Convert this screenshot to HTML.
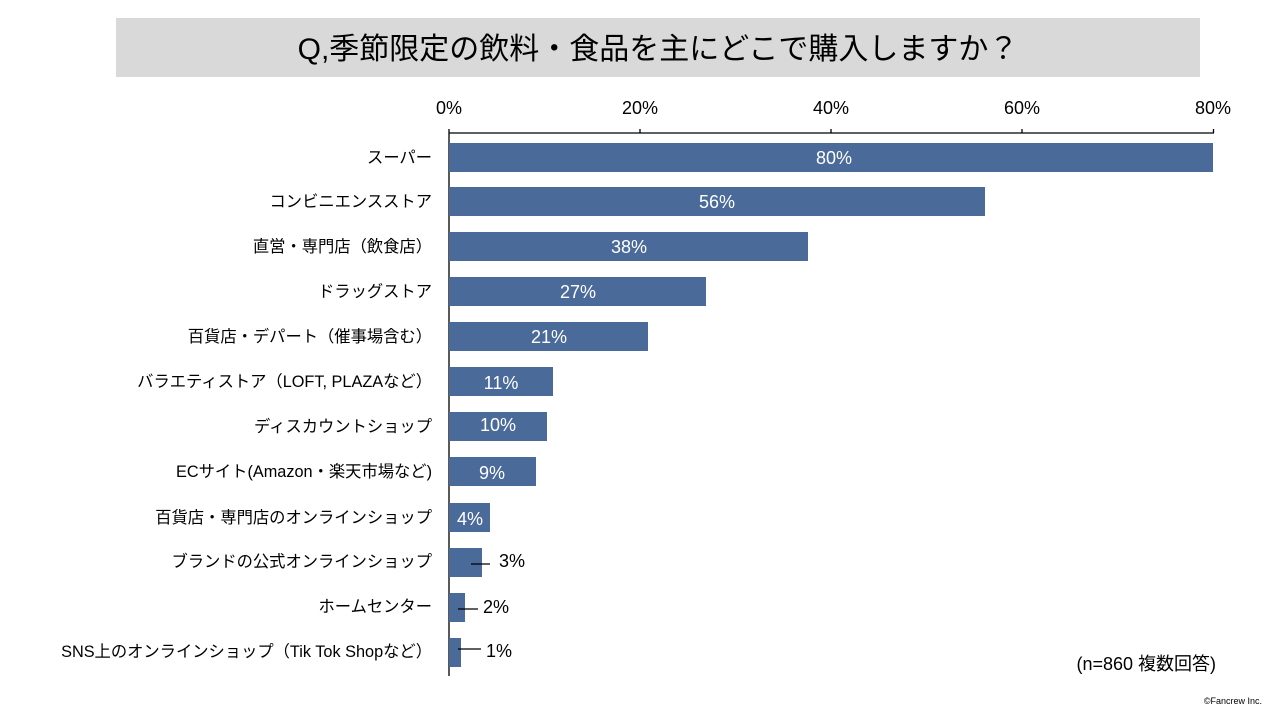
<!DOCTYPE html>
<html><head><meta charset="utf-8"><style>
html,body{margin:0;padding:0;background:#fff;}
svg{display:block;font-family:"Liberation Sans","Noto Sans CJK JP",sans-serif;}
</style></head><body>
<svg width="1280" height="720" viewBox="0 0 1280 720">
<rect x="116" y="18" width="1084" height="59" fill="#d9d9d9"/>
<text x="658" y="59" font-size="30" text-anchor="middle" fill="#000">Q,季節限定の飲料・食品を主にどこで購入しますか？</text>
<g font-size="18" fill="#000" text-anchor="middle">
<text x="449" y="114">0%</text><text x="640" y="114">20%</text><text x="831" y="114">40%</text><text x="1022" y="114">60%</text><text x="1213" y="114">80%</text>
</g>
<g stroke="#000" stroke-width="1.3">
<line x1="449" y1="133" x2="1214" y2="133"/>
<line x1="449" y1="129" x2="449" y2="676"/>
<line x1="640" y1="129" x2="640" y2="133"/><line x1="831" y1="129" x2="831" y2="133"/><line x1="1022" y1="129" x2="1022" y2="133"/><line x1="1213.5" y1="129" x2="1213.5" y2="133"/>
</g>
<g fill="#4a6a99">
<rect x="449" y="143" width="764" height="29"/>
<rect x="449" y="187" width="536" height="29"/>
<rect x="449" y="232" width="359" height="29"/>
<rect x="449" y="277" width="257" height="29"/>
<rect x="449" y="322" width="199" height="29"/>
<rect x="449" y="367" width="104" height="29"/>
<rect x="449" y="412" width="98" height="29"/>
<rect x="449" y="457" width="87" height="29"/>
<rect x="449" y="503" width="41" height="29"/>
<rect x="449" y="548" width="33" height="29"/>
<rect x="449" y="593" width="16" height="29"/>
<rect x="449" y="638" width="12" height="29"/>
</g>
<g font-size="18" fill="#fff" text-anchor="middle">
<text x="834" y="164">80%</text><text x="717" y="208">56%</text><text x="629" y="253">38%</text><text x="578" y="298">27%</text><text x="549" y="343">21%</text><text x="501" y="389">11%</text><text x="498" y="431">10%</text><text x="492" y="479">9%</text><text x="470" y="525">4%</text>
</g>
<g stroke="#000" stroke-width="1.3">
<line x1="471" y1="564" x2="490" y2="564"/>
<line x1="458" y1="609" x2="478" y2="609"/>
<line x1="458" y1="649" x2="481" y2="649"/>
</g>
<g font-size="18" fill="#000">
<text x="499" y="567">3%</text><text x="483" y="613">2%</text><text x="486" y="657">1%</text>
</g>
<g font-size="16.3" fill="#000" text-anchor="end">
<text x="432" y="163">スーパー</text>
<text x="432" y="207">コンビニエンスストア</text>
<text x="432" y="252">直営・専門店（飲食店）</text>
<text x="432" y="297">ドラッグストア</text>
<text x="432" y="342">百貨店・デパート（催事場含む）</text>
<text x="432" y="387">バラエティストア（LOFT, PLAZAなど）</text>
<text x="432" y="432">ディスカウントショップ</text>
<text x="432" y="477">ECサイト(Amazon・楽天市場など)</text>
<text x="432" y="523">百貨店・専門店のオンラインショップ</text>
<text x="432" y="567">ブランドの公式オンラインショップ</text>
<text x="432" y="612">ホームセンター</text>
<text x="432" y="657">SNS上のオンラインショップ（Tik Tok Shopなど）</text>
</g>
<text x="1216" y="670" font-size="18" text-anchor="end" fill="#000">(n=860 複数回答)</text>
<text x="1262" y="704" font-size="9" text-anchor="end" fill="#000">©Fancrew Inc.</text>
</svg>
</body></html>
